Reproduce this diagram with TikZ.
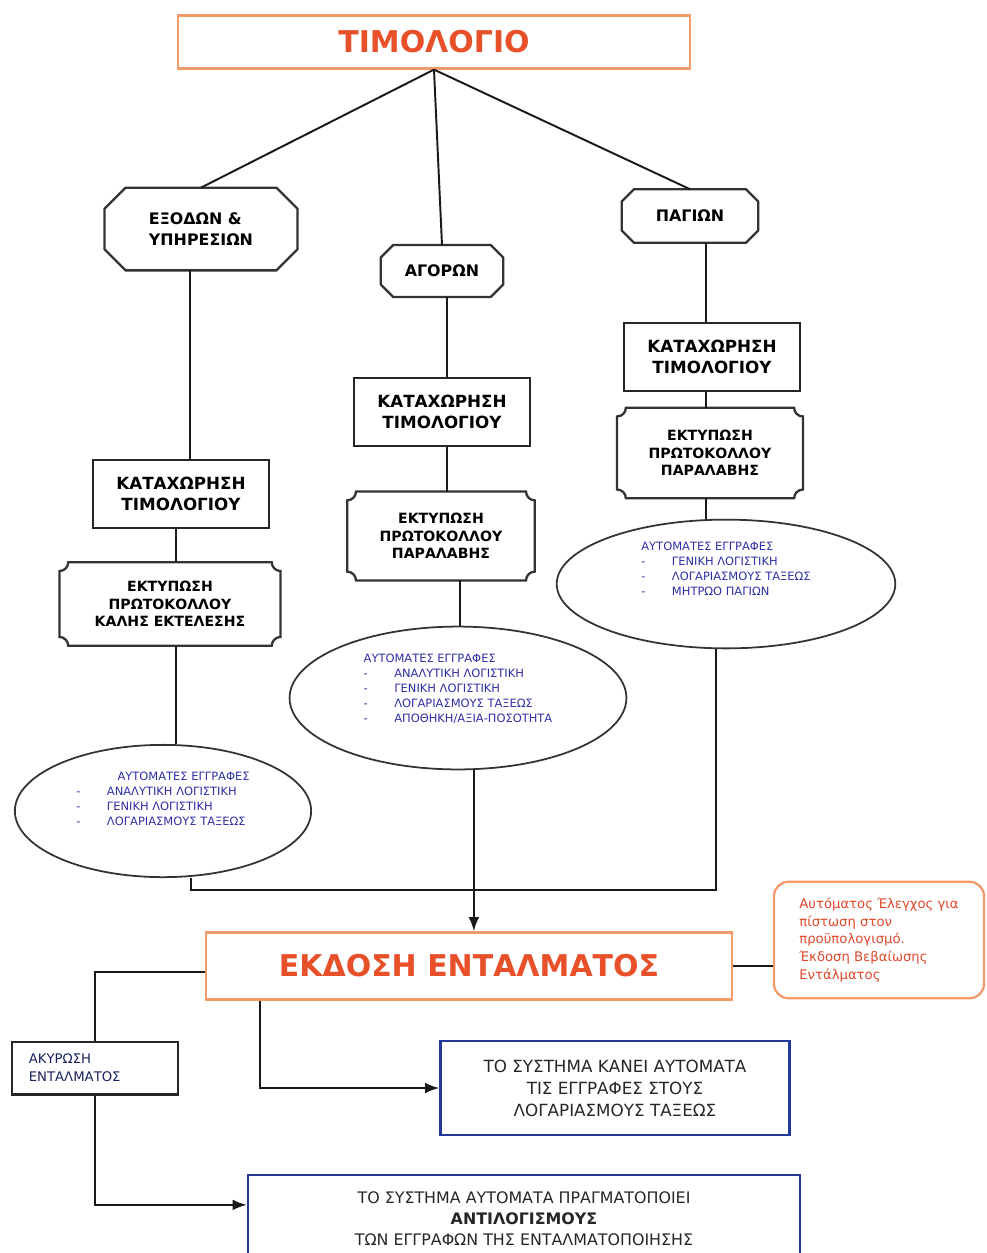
\documentclass[tikz,border=0pt]{standalone}
\usepackage{fontspec}
\setmainfont{DejaVu Sans}
\usetikzlibrary{shapes.geometric,arrows.meta}

\definecolor{titleorange}{HTML}{F29A6A}
\definecolor{titlered}{HTML}{E8502A}
\definecolor{notered}{HTML}{E0482C}
\definecolor{boxblue}{HTML}{24379A}
\definecolor{textblue}{HTML}{2E2EA6}

\tikzset{
	conn/.style={line width=1.1pt, black!90},
	arr/.style={conn, -{Latex[length=8pt,width=6pt]}},
	orbox/.style={draw=titleorange, line width=1.3pt, inner sep=0pt},
	catbox/.style={font=\fontsize{9}{12}\selectfont\bfseries, inner sep=0pt},
	frameline/.style={draw=black!80, line width=1.3pt},
	katbox/.style={draw=black!85, line width=1.4pt, font=\fontsize{9.5}{11.5}\selectfont\bfseries, align=center, minimum width=100pt, minimum height=38.5pt},
	plqtext/.style={font=\fontsize{8}{10}\selectfont\bfseries, align=center, inner sep=0pt},
	autoell/.style={ellipse, draw=black!80, line width=1pt, inner sep=0pt, font=\fontsize{6.5}{8.5}\selectfont, text=textblue},
	bluebox/.style={draw=boxblue, line width=1.3pt, align=center, inner sep=0pt, text=black!85},
}

% πλαίσια
\newcommand{\octframe}[2][7pt]{\draw[frameline] ([yshift=-#1]#2.north west) -- ([xshift=#1]#2.north west) -- ([xshift=-#1]#2.north east) -- ([yshift=-#1]#2.north east) -- ([yshift=#1]#2.south east) -- ([xshift=-#1]#2.south east) -- ([xshift=#1]#2.south west) -- ([yshift=#1]#2.south west) -- cycle;}
\newcommand{\plqframe}[2][5pt]{\draw[frameline] ([yshift=-#1]#2.north west) arc[start angle=-90,end angle=0,radius=#1] -- ([xshift=-#1]#2.north east) arc[start angle=180,end angle=270,radius=#1] -- ([yshift=#1]#2.south east) arc[start angle=90,end angle=180,radius=#1] -- ([xshift=#1]#2.south west) arc[start angle=0,end angle=90,radius=#1] -- cycle;}

\begin{document}
\begin{tikzpicture}[x=0.567pt, y=-0.567pt]
	\useasboundingbox (0,0) rectangle (987,1253);

	% Τίτλος
	\node[orbox, minimum width=290pt, minimum height=30pt, text=titlered, font=\fontsize{17}{20}\selectfont\bfseries] (tim) at (434,42) {ΤΙΜΟΛΟΓΙΟ};

	% Κατηγορίες
	\node[catbox, align=left, minimum width=109pt, minimum height=46.5pt] (exo) at (201,229) {ΕΞΟΔΩΝ \&\\ΥΠΗΡΕΣΙΩΝ};
	\octframe[12pt]{exo}
	\node[catbox, minimum width=69pt, minimum height=29pt] (agor) at (442,271) {ΑΓΟΡΩΝ};
	\octframe{agor}
	\node[catbox, minimum width=77pt, minimum height=30pt] (pag) at (690,216) {ΠΑΓΙΩΝ};
	\octframe{pag}

	% Καταχώρηση
	\node[katbox] (kat1) at (181,494) {ΚΑΤΑΧΩΡΗΣΗ\\ΤΙΜΟΛΟΓΙΟΥ};
	\node[katbox] (kat2) at (442,412) {ΚΑΤΑΧΩΡΗΣΗ\\ΤΙΜΟΛΟΓΙΟΥ};
	\node[katbox] (kat3) at (712,357) {ΚΑΤΑΧΩΡΗΣΗ\\ΤΙΜΟΛΟΓΙΟΥ};

	% Εκτύπωση
	\node[plqtext, minimum width=125pt, minimum height=47pt] (plq1) at (170,604) {ΕΚΤΥΠΩΣΗ\\ΠΡΩΤΟΚΟΛΛΟΥ\\ΚΑΛΗΣ ΕΚΤΕΛΕΣΗΣ};
	\plqframe{plq1}
	\node[plqtext, minimum width=106pt, minimum height=50pt] (plq2) at (441,536) {ΕΚΤΥΠΩΣΗ\\ΠΡΩΤΟΚΟΛΛΟΥ\\ΠΑΡΑΛΑΒΗΣ};
	\plqframe{plq2}
	\node[plqtext, minimum width=105pt, minimum height=51pt] (plq3) at (710,453) {ΕΚΤΥΠΩΣΗ\\ΠΡΩΤΟΚΟΛΛΟΥ\\ΠΑΡΑΛΑΒΗΣ};
	\plqframe{plq3}

	% Αυτόματες εγγραφές
	\node[autoell, minimum width=168pt, minimum height=75pt] (ell1) at (163,811) {\begin{tabular}{@{}l@{\hspace{15pt}}l@{}}
		& \multicolumn{1}{c@{}}{ΑΥΤΟΜΑΤΕΣ ΕΓΓΡΑΦΕΣ}\\
		- & ΑΝΑΛΥΤΙΚΗ ΛΟΓΙΣΤΙΚΗ\\
		- & ΓΕΝΙΚΗ ΛΟΓΙΣΤΙΚΗ\\
		- & ΛΟΓΑΡΙΑΣΜΟΥΣ ΤΑΞΕΩΣ\\[12pt]
	\end{tabular}};
	\node[autoell, minimum width=191pt, minimum height=81pt] (ell2) at (458,698) {\begin{tabular}{@{}l@{\hspace{15pt}}l@{}}
		\multicolumn{2}{@{}l@{}}{ΑΥΤΟΜΑΤΕΣ ΕΓΓΡΑΦΕΣ}\\
		- & ΑΝΑΛΥΤΙΚΗ ΛΟΓΙΣΤΙΚΗ\\
		- & ΓΕΝΙΚΗ ΛΟΓΙΣΤΙΚΗ\\
		- & ΛΟΓΑΡΙΑΣΜΟΥΣ ΤΑΞΕΩΣ\\
		- & ΑΠΟΘΗΚΗ/ΑΞΙΑ-ΠΟΣΟΤΗΤΑ\\[10pt]
	\end{tabular}};
	\node[autoell, minimum width=192pt, minimum height=73pt] (ell3) at (726,584) {\begin{tabular}{@{}l@{\hspace{15pt}}l@{}}
		\multicolumn{2}{@{}l@{}}{ΑΥΤΟΜΑΤΕΣ ΕΓΓΡΑΦΕΣ}\\
		- & ΓΕΝΙΚΗ ΛΟΓΙΣΤΙΚΗ\\
		- & ΛΟΓΑΡΙΑΣΜΟΥΣ ΤΑΞΕΩΣ\\
		- & ΜΗΤΡΩΟ ΠΑΓΙΩΝ\\[16pt]
	\end{tabular}};

	% Έκδοση εντάλματος
	\node[orbox, minimum width=298pt, minimum height=38pt, text=titlered, font=\fontsize{17}{20}\selectfont\bfseries] (ekd) at (469,966) {ΕΚΔΟΣΗ ΕΝΤΑΛΜΑΤΟΣ};
	\node[orbox, rounded corners=8pt, minimum width=119pt, minimum height=66pt, text=notered, font=\fontsize{7.5}{10}\selectfont, align=left] (note) at (879,940) {Αυτόματος Έλεγχος για\\πίστωση στον\\προϋπολογισμό.\\Έκδοση Βεβαίωσης\\Εντάλματος};
	\node[draw=black!85, line width=1.2pt, minimum height=30pt, text width=75pt, inner xsep=9.5pt, align=left, font=\fontsize{7.5}{10}\selectfont, text=boxblue!60!black] (akyr) at (95,1068) {ΑΚΥΡΩΣΗ\\ΕΝΤΑΛΜΑΤΟΣ};
	\node[bluebox, minimum width=198pt, minimum height=53pt, font=\fontsize{9.5}{12.5}\selectfont] (sys1) at (615,1088) {ΤΟ ΣΥΣΤΗΜΑ ΚΑΝΕΙ ΑΥΤΟΜΑΤΑ\\ΤΙΣ ΕΓΓΡΑΦΕΣ ΣΤΟΥΣ\\ΛΟΓΑΡΙΑΣΜΟΥΣ ΤΑΞΕΩΣ};
	\node[bluebox, minimum width=313pt, minimum height=50pt, font=\fontsize{9}{12}\selectfont] (sys2) at (524,1219) {ΤΟ ΣΥΣΤΗΜΑ ΑΥΤΟΜΑΤΑ ΠΡΑΓΜΑΤΟΠΟΙΕΙ\\\textbf{ΑΝΤΙΛΟΓΙΣΜΟΥΣ}\\ΤΩΝ ΕΓΓΡΑΦΩΝ ΤΗΣ ΕΝΤΑΛΜΑΤΟΠΟΙΗΣΗΣ};

	% Συνδέσεις
	\draw[conn] (tim.south) -- (exo.north);
	\draw[conn] (tim.south) -- (agor.north);
	\draw[conn] (tim.south) -- (pag.north);
	\draw[conn] ([xshift=-6pt]exo.south) -- ([xshift=-6pt]exo.south |- kat1.north);
	\draw[conn] ([xshift=-3pt]kat1.south) -- ([xshift=-3pt]kat1.south |- plq1.north);
	\draw[conn] ([xshift=3.5pt]plq1.south) -- ([xshift=3.5pt]plq1.south |- ell1.north);
	\draw[conn] ([xshift=3pt]agor.south) -- ([xshift=3pt]agor.south |- kat2.north);
	\draw[conn] ([xshift=3pt]kat2.south) -- ([xshift=3pt]kat2.south |- plq2.north);
	\draw[conn] ([xshift=11pt]plq2.south) -- ([xshift=11pt]plq2.south |- ell2.north);
	\draw[conn] ([xshift=9pt]pag.south) -- ([xshift=9pt]pag.south |- kat3.north);
	\draw[conn] ([xshift=-3.4pt]kat3.south) -- ([xshift=-3.4pt]kat3.south |- plq3.north);
	\draw[conn] ([xshift=-2.3pt]plq3.south) -- ([xshift=-2.3pt]plq3.south |- ell3.north);
	\draw[conn] ([xshift=16pt]ell1.south) -- ++(0,12) -| ([xshift=-5.7pt]ell3.south);
	\draw[arr] ([xshift=9pt]ell2.south) -- ([xshift=9pt]ell2.south |- ekd.north);
	\draw[conn] (ekd.east) -- (note.west |- ekd.east);
	\draw[conn] ([yshift=-3.4pt]ekd.west) -| (akyr.north);
	\draw[arr] ([xshift=31pt]ekd.south west) |- (sys1.west);
	\draw[arr] (akyr.south) |- ([yshift=8pt]sys2.west);
\end{tikzpicture}
\end{document}
